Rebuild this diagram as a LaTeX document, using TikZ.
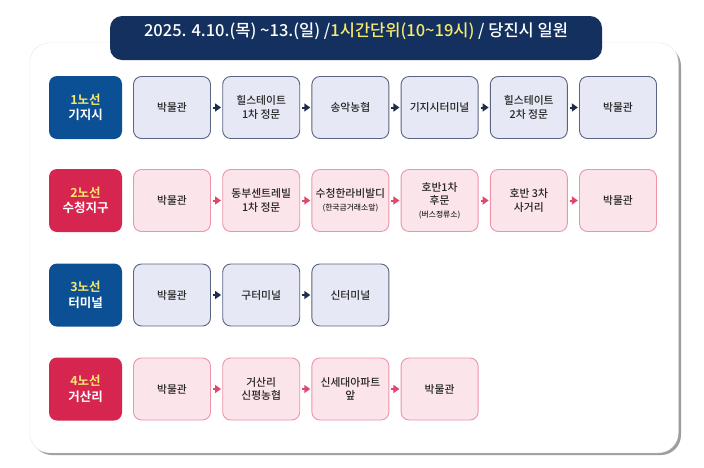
\documentclass[tikz,border=0pt]{standalone}
\usepackage{fontspec}
\setmainfont{Noto Sans CJK KR}[BoldFont={Noto Sans CJK KR Bold}]
\newfontfamily\krmed{Noto Sans CJK KR Medium}
\usetikzlibrary{arrows.meta}
\definecolor{navy}{HTML}{13305F}
\definecolor{lblblue}{HTML}{0B4F94}
\definecolor{lblpink}{HTML}{D6254F}
\definecolor{yel}{HTML}{F6E96E}
\definecolor{bfill}{HTML}{E6E9F5}
\definecolor{bline}{HTML}{5A6483}
\definecolor{pfill}{HTML}{FCE5EA}
\definecolor{pline}{HTML}{EE94A9}
\definecolor{barr}{HTML}{1E2B4E}
\definecolor{parr}{HTML}{E0476C}
\tikzset{
  lbl/.style={rounded corners=8pt, minimum width=73pt, minimum height=63pt, inner sep=0pt,
    align=center, text=white, font=\bfseries\fontsize{12.5}{15.5}\selectfont},
  lblb/.style={lbl, fill=lblblue},
  lblp/.style={lbl, fill=lblpink},
  stop/.style={rounded corners=8pt, minimum width=77pt, minimum height=62pt, inner sep=0pt,
    align=center, line width=0.9pt, text=black!85, font=\krmed\fontsize{10.8}{13.2}\selectfont},
  stopb/.style={stop, fill=bfill, draw=bline},
  stopp/.style={stop, fill=pfill, draw=pline},
  arr/.style={line width=2pt, -{Stealth[length=6pt,width=8pt,inset=0pt]}, shorten <=2pt, shorten >=1.2pt},
  arrb/.style={arr, draw=barr},
  arrp/.style={arr, draw=parr},
}
\newcommand{\smalltxt}[1]{{\fontsize{7.8}{9.5}\selectfont #1}}
\begin{document}
\begin{tikzpicture}[x=1pt,y=-1pt]
\useasboundingbox (0,0) rectangle (704,467);
% panel shadow and panel
\fill[black!38, rounded corners=20pt] (32,46) rectangle (681,455);
\fill[black!8, rounded corners=20pt] (29.5,42.5) rectangle (678.5,453);
\fill[white, rounded corners=20pt] (30,43) rectangle (678,452.5);
% header
\fill[navy, rounded corners=12pt] (110,16) rectangle (602,60);
\fill[navy] (110,35) rectangle (602,46);
\node[text=white, font=\krmed\fontsize{16.5}{19}\selectfont] (hdr) at (356,31)
  {2025. 4.10.(목) \textasciitilde13.(일) /\textcolor{yel}{1시간단위(10\textasciitilde19시)} / 당진시 일원};
% row 1
\node[lblb] (l1) at (85.5,107.5) {\textcolor{yel}{1노선}\\기지시};
\foreach \i/\t in {1/박물관,2/{힐스테이트\\1차 정문},3/송악농협,4/기지시터미널,5/{힐스테이트\\2차 정문},6/박물관}
  \node[stopb] (a\i) at ({172+89.2*(\i-1)},107.5) {\t};
\foreach \i/\j in {1/2,2/3,3/4,4/5,5/6} \draw[arrb] (a\i) -- (a\j);
% row 2
\node[lblp] (l2) at (85.5,200.5) {\textcolor{yel}{2노선}\\수청지구};
\foreach \i/\t in {1/박물관,2/{동부센트레빌\\1차 정문},3/{수청한라비발디\\\smalltxt{(한국금거래소앞)}},4/{호반1차\\후문\\\smalltxt{(버스정류소)}},5/{호반 3차\\사거리},6/박물관}
  \node[stopp] (b\i) at ({172+89.2*(\i-1)},200.5) {\t};
\foreach \i/\j in {1/2,2/3,3/4,4/5,5/6} \draw[arrp] (b\i) -- (b\j);
% row 3
\node[lblb] (l3) at (85.5,295) {\textcolor{yel}{3노선}\\터미널};
\foreach \i/\t in {1/박물관,2/구터미널,3/신터미널}
  \node[stopb] (c\i) at ({172+89.2*(\i-1)},295) {\t};
\foreach \i/\j in {1/2,2/3} \draw[arrb] (c\i) -- (c\j);
% row 4
\node[lblp] (l4) at (85.5,389) {\textcolor{yel}{4노선}\\거산리};
\foreach \i/\t in {1/박물관,2/{거산리\\신평농협},3/{신세대아파트\\앞},4/박물관}
  \node[stopp] (d\i) at ({172+89.2*(\i-1)},389) {\t};
\foreach \i/\j in {1/2,2/3,3/4} \draw[arrp] (d\i) -- (d\j);
\end{tikzpicture}
\end{document}
